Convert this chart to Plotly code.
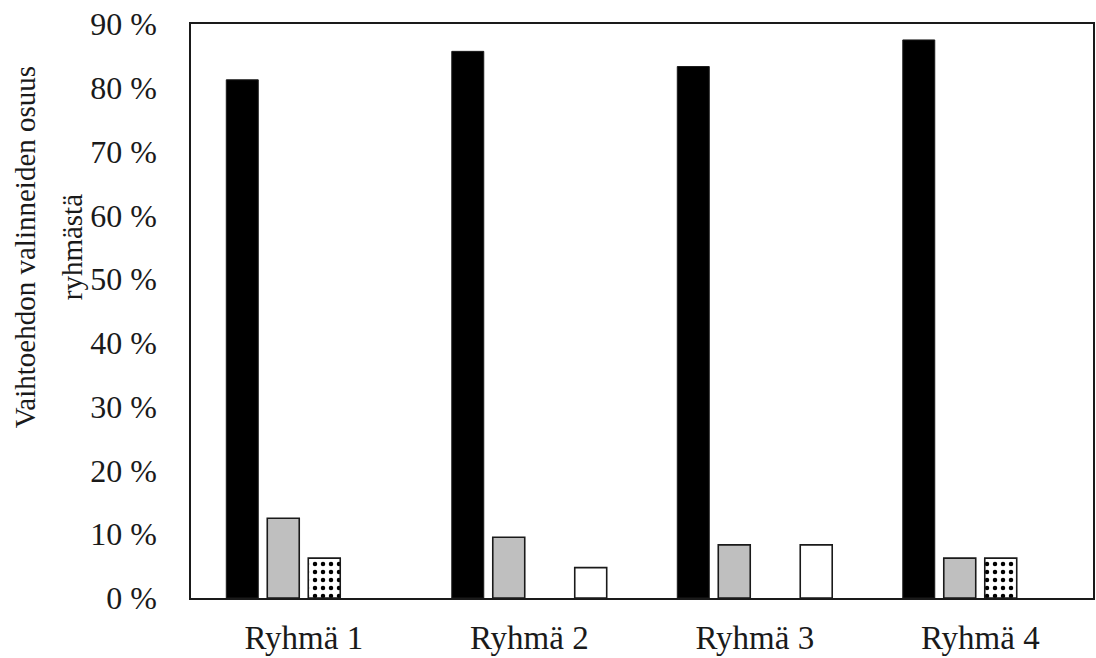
import plotly.graph_objects as go

groups = ["Ryhmä 1", "Ryhmä 2", "Ryhmä 3", "Ryhmä 4"]

# share of respondents (%) per answer option in each group
option_a = [81.25, 85.71, 83.33, 87.5]   # black
option_b = [12.5, 9.52, 8.33, 6.25]      # grey
option_c = [6.25, 0.0, 0.0, 6.25]        # dotted
option_d = [0.0, 4.76, 8.33, 0.0]        # white

y_ticks = [0, 10, 20, 30, 40, 50, 60, 70, 80, 90]
y_tick_labels = ["0 %", "10 %", "20 %", "30 %", "40 %", "50 %", "60 %", "70 %", "80 %", "90 %"]

title_lines = ["Vaihtoehdon valinneiden osuus", "ryhmästä"]

FONT = "Liberation Serif"
INK = "#1a1a1a"


def outline(values, width=1.6):
    # no outline on empty bars so nothing is drawn for a 0 % share
    return dict(color=INK, width=[width if v > 0 else 0 for v in values])


fig = go.Figure()
fig.add_trace(go.Bar(x=groups, y=option_a,
                     marker=dict(color="black", line=outline(option_a, 1))))
fig.add_trace(go.Bar(x=groups, y=option_b,
                     marker=dict(color="#bfbfbf", line=outline(option_b))))
fig.add_trace(go.Bar(x=groups, y=option_c, marker=dict(
    color="white", line=outline(option_c),
    pattern=dict(shape=".", fgcolor="black", fgopacity=1, bgcolor="white",
                 size=8, solidity=0.25, fillmode="overlay"))))
fig.add_trace(go.Bar(x=groups, y=option_d,
                     marker=dict(color="white", line=outline(option_d))))

fig.update_layout(
    width=1096, height=658,
    margin=dict(l=191, r=1, t=24, b=60),
    paper_bgcolor="white", plot_bgcolor="white",
    barmode="group", bargap=0.273, bargroupgap=0.22,
    showlegend=False,
    font=dict(family=FONT, size=32, color=INK),
)
fig.update_xaxes(
    showline=True, linecolor=INK, linewidth=1.6, mirror=True,
    showgrid=False, ticks="", ticklabelstandoff=10, tickfont=dict(size=33),
)
fig.update_yaxes(
    range=[0, 90], tickvals=y_ticks, ticktext=y_tick_labels,
    showline=True, linecolor=INK, linewidth=1.6, mirror=True,
    showgrid=False, zeroline=False, ticks="", ticklabelstandoff=26,
    tickfont=dict(size=32),
)

# two-line y-axis title, each line placed on its own
for text, xpx in zip(title_lines, [25, 72]):
    fig.add_annotation(
        text=text, textangle=-90, showarrow=False,
        xref="paper", yref="paper",
        x=(xpx - 191) / 904, y=(598 - 247) / 574,
        xanchor="center", yanchor="middle",
        font=dict(family=FONT, size=29, color=INK),
    )

fig.write_html("out.html")
